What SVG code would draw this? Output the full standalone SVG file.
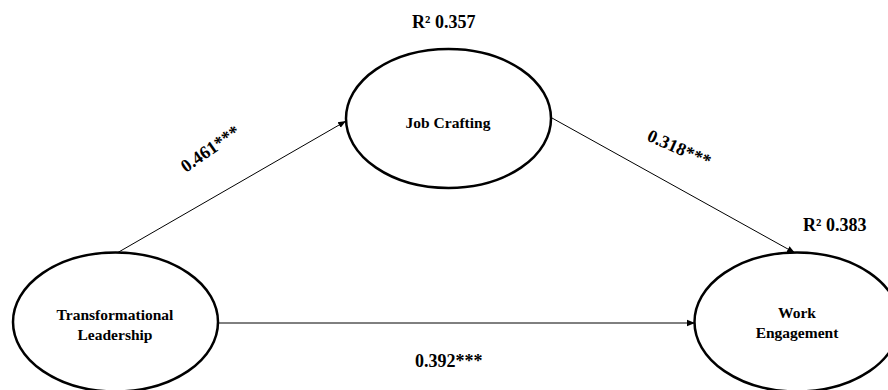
<svg xmlns="http://www.w3.org/2000/svg" width="888" height="390" viewBox="0 0 888 390">
<defs>
<marker id="arr" viewBox="0 0 10 10" refX="10" refY="5" markerWidth="8" markerHeight="8" markerUnits="userSpaceOnUse" orient="auto">
<path d="M0,1 L10,5 L0,9 z" fill="#000"/>
</marker>
<style>
.node{fill:#fff;stroke:#000;stroke-width:2.5}
.lbl{font-family:"Liberation Serif","Times New Roman",serif;font-weight:bold;font-size:15.5px;fill:#000;text-anchor:middle}
.big{font-family:"Liberation Serif","Times New Roman",serif;font-weight:bold;font-size:18px;fill:#000}
.edge{stroke:#000;stroke-width:1;fill:none;marker-end:url(#arr)}
</style>
</defs>
<rect width="888" height="390" fill="#fff"/>
<g id="connectors">
<line class="edge" x1="117" y1="253" x2="346" y2="121"/>
<line class="edge" x1="552" y1="118" x2="795" y2="253"/>
<line class="edge" x1="219" y1="323" x2="695" y2="323"/>
</g>
<g id="job-crafting">
<ellipse class="node" cx="448.5" cy="118.5" rx="102.5" ry="69.5"/>
<text class="lbl" x="448" y="128">Job Crafting</text>
</g>
<g id="transformational-leadership">
<ellipse class="node" cx="115.5" cy="322" rx="102.5" ry="69.5"/>
<text class="lbl" x="115" y="320">Transformational</text>
<text class="lbl" x="115" y="340">Leadership</text>
</g>
<g id="work-engagement">
<ellipse class="node" cx="797" cy="322" rx="102.5" ry="69.5"/>
<text class="lbl" x="797" y="318">Work</text>
<text class="lbl" x="797" y="338">Engagement</text>
</g>
<g id="labels">
<text class="big" x="412" y="28">R² 0.357</text>
<text class="big" x="803" y="231">R² 0.383</text>
<text class="big" x="415" y="367">0.392***</text>
<text class="big" transform="translate(186,173) rotate(-35)">0.461***</text>
<text class="big" transform="translate(646,140) rotate(24)">0.318***</text>
</g>
</svg>
